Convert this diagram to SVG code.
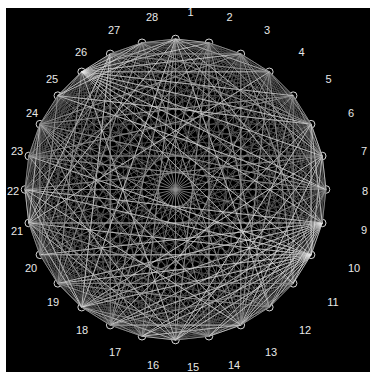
<svg xmlns="http://www.w3.org/2000/svg" xmlns:xlink="http://www.w3.org/1999/xlink" width="370" height="372" viewBox="0 0 370 372">
<style>
#edges path,#edges use{fill:none;stroke-width:0.8}
.b{stroke:#555555}
.g1{stroke:#909090}
.g2{stroke:#c4c4c4}
.w{stroke:#e8e8e8;opacity:0.75}
.n circle{fill:none;stroke:#d8d8d8;stroke-width:1}
.n text{font-family:"Liberation Sans",Arial,sans-serif;font-size:11px;fill:#e8e8e8;text-anchor:middle}
</style>
<defs>
<path id="fA" d="M175.5 39L208.99 42.78M175.5 39L269.34 71.84M175.5 39L322.22 156.01M175.5 39L322.22 222.99M175.5 39L269.34 307.16"/>
<path id="fB" d="M175.5 39L208.99 42.78M175.5 39L240.8 53.9M175.5 39L326 189.5M175.5 39L311.1 254.8M175.5 39L240.8 325.1"/>
<path id="fC" d="M175.5 39L208.99 42.78M175.5 39L311.1 124.2M175.5 39L293.16 283.34M175.5 39L240.8 325.1M175.5 39L208.99 336.22"/>
<path id="fD" d="M175.5 39L208.99 42.78M175.5 39L269.34 71.84M175.5 39L293.16 95.66M175.5 39L311.1 254.8M175.5 39L269.34 307.16"/>
<path id="fE" d="M175.5 39L208.99 42.78M175.5 39L240.8 53.9M175.5 39L322.22 156.01M175.5 39L322.22 222.99M175.5 39L208.99 336.22"/>
<path id="fF" d="M175.5 39L208.99 42.78M175.5 39L293.16 95.66M175.5 39L311.1 124.2M175.5 39L326 189.5M175.5 39L293.16 283.34"/>
<path id="fK" d="M175.5 39L208.99 42.78M175.5 39L240.8 53.9M175.5 39L269.34 71.84M175.5 39L293.16 95.66M175.5 39L311.1 124.2M175.5 39L322.22 156.01M175.5 39L326 189.5M175.5 39L322.22 222.99M175.5 39L311.1 254.8M175.5 39L293.16 283.34M175.5 39L269.34 307.16M175.5 39L240.8 325.1M175.5 39L208.99 336.22"/>
</defs>
<rect x="0" y="0" width="370" height="372" fill="#fff"/>
<rect x="6" y="8" width="364" height="364" fill="#000"/>
<g id="node1" class="n"><circle cx="175.5" cy="39" r="3.8"/><text x="190.5" y="16">1</text></g>
<g id="node2" class="n"><circle cx="208.99" cy="42.78" r="3.8"/><text x="229.5" y="21">2</text></g>
<g id="node3" class="n"><circle cx="240.8" cy="53.9" r="3.8"/><text x="267" y="34">3</text></g>
<g id="node4" class="n"><circle cx="269.34" cy="71.84" r="3.8"/><text x="301.5" y="56">4</text></g>
<g id="node5" class="n"><circle cx="293.16" cy="95.66" r="3.8"/><text x="328.5" y="83">5</text></g>
<g id="node6" class="n"><circle cx="311.1" cy="124.2" r="3.8"/><text x="351" y="117">6</text></g>
<g id="node7" class="n"><circle cx="322.22" cy="156.01" r="3.8"/><text x="364" y="155">7</text></g>
<g id="node8" class="n"><circle cx="326" cy="189.5" r="3.8"/><text x="365" y="194.5">8</text></g>
<g id="node9" class="n"><circle cx="322.22" cy="222.99" r="3.8"/><text x="364" y="234">9</text></g>
<g id="node10" class="n"><circle cx="311.1" cy="254.8" r="3.8"/><text x="354" y="272">10</text></g>
<g id="node11" class="n"><circle cx="293.16" cy="283.34" r="3.8"/><text x="333" y="306">11</text></g>
<g id="node12" class="n"><circle cx="269.34" cy="307.16" r="3.8"/><text x="305" y="334">12</text></g>
<g id="node13" class="n"><circle cx="240.8" cy="325.1" r="3.8"/><text x="271" y="356">13</text></g>
<g id="node14" class="n"><circle cx="208.99" cy="336.22" r="3.8"/><text x="234" y="369">14</text></g>
<g id="node15" class="n"><circle cx="175.5" cy="340" r="3.8"/><text x="193" y="371">15</text></g>
<g id="node16" class="n"><circle cx="142.01" cy="336.22" r="3.8"/><text x="153" y="369">16</text></g>
<g id="node17" class="n"><circle cx="110.2" cy="325.1" r="3.8"/><text x="115" y="356">17</text></g>
<g id="node18" class="n"><circle cx="81.66" cy="307.16" r="3.8"/><text x="82" y="334">18</text></g>
<g id="node19" class="n"><circle cx="57.84" cy="283.34" r="3.8"/><text x="53" y="306">19</text></g>
<g id="node20" class="n"><circle cx="39.9" cy="254.8" r="3.8"/><text x="31" y="272">20</text></g>
<g id="node21" class="n"><circle cx="28.78" cy="222.99" r="3.8"/><text x="17" y="234.5">21</text></g>
<g id="node22" class="n"><circle cx="25" cy="189.5" r="3.8"/><text x="13" y="194.5">22</text></g>
<g id="node23" class="n"><circle cx="28.78" cy="156.01" r="3.8"/><text x="17" y="155">23</text></g>
<g id="node24" class="n"><circle cx="39.9" cy="124.2" r="3.8"/><text x="32" y="117">24</text></g>
<g id="node25" class="n"><circle cx="57.84" cy="95.66" r="3.8"/><text x="52" y="83">25</text></g>
<g id="node26" class="n"><circle cx="81.66" cy="71.84" r="3.8"/><text x="81" y="56">26</text></g>
<g id="node27" class="n"><circle cx="110.2" cy="53.9" r="3.8"/><text x="114" y="34">27</text></g>
<g id="node28" class="n"><circle cx="142.01" cy="42.78" r="3.8"/><text x="152" y="21">28</text></g>
<g id="edges">
<g class="b">
<use href="#fK" xlink:href="#fK"/>
<use href="#fK" xlink:href="#fK" transform="rotate(12.857143 175.5 189.5)"/>
<use href="#fK" xlink:href="#fK" transform="rotate(25.714286 175.5 189.5)"/>
<use href="#fK" xlink:href="#fK" transform="rotate(38.571429 175.5 189.5)"/>
<use href="#fK" xlink:href="#fK" transform="rotate(51.428571 175.5 189.5)"/>
<use href="#fK" xlink:href="#fK" transform="rotate(64.285714 175.5 189.5)"/>
<use href="#fK" xlink:href="#fK" transform="rotate(77.142857 175.5 189.5)"/>
<use href="#fK" xlink:href="#fK" transform="rotate(90 175.5 189.5)"/>
<use href="#fK" xlink:href="#fK" transform="rotate(102.857143 175.5 189.5)"/>
<use href="#fK" xlink:href="#fK" transform="rotate(115.714286 175.5 189.5)"/>
<use href="#fK" xlink:href="#fK" transform="rotate(128.571429 175.5 189.5)"/>
<use href="#fK" xlink:href="#fK" transform="rotate(141.428571 175.5 189.5)"/>
<use href="#fK" xlink:href="#fK" transform="rotate(154.285714 175.5 189.5)"/>
<use href="#fK" xlink:href="#fK" transform="rotate(167.142857 175.5 189.5)"/>
<use href="#fK" xlink:href="#fK" transform="rotate(180 175.5 189.5)"/>
<use href="#fK" xlink:href="#fK" transform="rotate(192.857143 175.5 189.5)"/>
<use href="#fK" xlink:href="#fK" transform="rotate(205.714286 175.5 189.5)"/>
<use href="#fK" xlink:href="#fK" transform="rotate(218.571429 175.5 189.5)"/>
<use href="#fK" xlink:href="#fK" transform="rotate(231.428571 175.5 189.5)"/>
<use href="#fK" xlink:href="#fK" transform="rotate(244.285714 175.5 189.5)"/>
<use href="#fK" xlink:href="#fK" transform="rotate(257.142857 175.5 189.5)"/>
<use href="#fK" xlink:href="#fK" transform="rotate(270 175.5 189.5)"/>
<use href="#fK" xlink:href="#fK" transform="rotate(282.857143 175.5 189.5)"/>
<use href="#fK" xlink:href="#fK" transform="rotate(295.714286 175.5 189.5)"/>
<use href="#fK" xlink:href="#fK" transform="rotate(308.571429 175.5 189.5)"/>
<use href="#fK" xlink:href="#fK" transform="rotate(321.428571 175.5 189.5)"/>
<use href="#fK" xlink:href="#fK" transform="rotate(334.285714 175.5 189.5)"/>
<use href="#fK" xlink:href="#fK" transform="rotate(347.142857 175.5 189.5)"/>
</g>
<path class="g1" d="M175.5 39L175.5 340M208.99 42.78L142.01 336.22M240.8 53.9L110.2 325.1M269.34 71.84L81.66 307.16M293.16 95.66L57.84 283.34M311.1 124.2L39.9 254.8M322.22 156.01L28.78 222.99M326 189.5L25 189.5M322.22 222.99L28.78 156.01M311.1 254.8L39.9 124.2M293.16 283.34L57.84 95.66M269.34 307.16L81.66 71.84M240.8 325.1L110.2 53.9M208.99 336.22L142.01 42.78"/>
<use href="#fA" xlink:href="#fA" class="g2"/>
<use href="#fC" xlink:href="#fC" class="g1" transform="rotate(12.857143 175.5 189.5)"/>
<use href="#fF" xlink:href="#fF" class="g1" transform="rotate(25.714286 175.5 189.5)"/>
<use href="#fB" xlink:href="#fB" class="g1" transform="rotate(38.571429 175.5 189.5)"/>
<use href="#fE" xlink:href="#fE" class="g1" transform="rotate(51.428571 175.5 189.5)"/>
<use href="#fD" xlink:href="#fD" class="g2" transform="rotate(64.285714 175.5 189.5)"/>
<use href="#fA" xlink:href="#fA" class="g2" transform="rotate(77.142857 175.5 189.5)"/>
<use href="#fF" xlink:href="#fF" class="g1" transform="rotate(90 175.5 189.5)"/>
<use href="#fK" xlink:href="#fK" class="w" transform="rotate(102.857143 175.5 189.5)"/>
<use href="#fK" xlink:href="#fK" class="w" transform="rotate(115.714286 175.5 189.5)"/>
<use href="#fE" xlink:href="#fE" class="g1" transform="rotate(128.571429 175.5 189.5)"/>
<use href="#fB" xlink:href="#fB" class="g1" transform="rotate(141.428571 175.5 189.5)"/>
<use href="#fD" xlink:href="#fD" class="g2" transform="rotate(154.285714 175.5 189.5)"/>
<use href="#fF" xlink:href="#fF" class="g1" transform="rotate(167.142857 175.5 189.5)"/>
<use href="#fA" xlink:href="#fA" class="g2" transform="rotate(180 175.5 189.5)"/>
<use href="#fE" xlink:href="#fE" class="g1" transform="rotate(192.857143 175.5 189.5)"/>
<use href="#fC" xlink:href="#fC" class="g1" transform="rotate(205.714286 175.5 189.5)"/>
<use href="#fD" xlink:href="#fD" class="g2" transform="rotate(218.571429 175.5 189.5)"/>
<use href="#fB" xlink:href="#fB" class="g1" transform="rotate(231.428571 175.5 189.5)"/>
<use href="#fF" xlink:href="#fF" class="g1" transform="rotate(244.285714 175.5 189.5)"/>
<use href="#fA" xlink:href="#fA" class="g2" transform="rotate(257.142857 175.5 189.5)"/>
<use href="#fE" xlink:href="#fE" class="g1" transform="rotate(270 175.5 189.5)"/>
<use href="#fC" xlink:href="#fC" class="g1" transform="rotate(282.857143 175.5 189.5)"/>
<use href="#fB" xlink:href="#fB" class="g1" transform="rotate(295.714286 175.5 189.5)"/>
<use href="#fD" xlink:href="#fD" class="g2" transform="rotate(308.571429 175.5 189.5)"/>
<use href="#fK" xlink:href="#fK" class="w" transform="rotate(321.428571 175.5 189.5)"/>
<use href="#fF" xlink:href="#fF" class="g1" transform="rotate(334.285714 175.5 189.5)"/>
<use href="#fE" xlink:href="#fE" class="g1" transform="rotate(347.142857 175.5 189.5)"/>
</g>
</svg>
